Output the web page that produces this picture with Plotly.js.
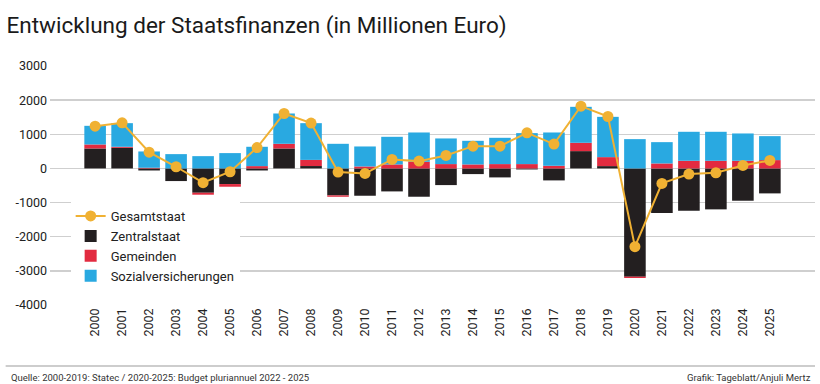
<!DOCTYPE html>
<html>
<head>
<meta charset="utf-8">
<script src="https://cdn.plot.ly/plotly-3.0.1.min.js"></script>
<style>
html,body{margin:0;padding:0;background:#fff;}
#chart{width:820px;height:384px;}
</style>
</head>
<body>
<div id="chart"></div>
<script>
const years = ["2000","2001","2002","2003","2004","2005","2006","2007","2008","2009","2010","2011","2012","2013","2014","2015","2016","2017","2018","2019","2020","2021","2022","2023","2024","2025"];
const zentralstaat = [585, 604, -60, -370, -712, -458, -60, 585, 70, -790, -800, -673, -829, -488, -166, -263, -30, -351, 507, 68, -3170, -1307, -1238, -1199, -946, -731];
const gemeinden = [117, 30, 20, 0, -58, -78, 68, 137, 180, -40, 58, 117, 195, 127, 117, 127, 127, 78, 244, 263, -40, 146, 224, 224, 224, 244];
const sozialversicherungen = [546, 692, 477, 419, 360, 449, 566, 887, 1076, 721, 585, 809, 858, 751, 692, 770, 907, 975, 1053, 1180, 858, 624, 849, 849, 800, 702];
const gesamtstaat = [1238, 1336, 476, 49, -419, -97, 610, 1609, 1330, -107, -146, 263, 214, 380, 653, 653, 1043, 712, 1823, 1521, -2291, -439, -166, -127, 88, 234];

const FONT = 'Roboto, "Liberation Sans", sans-serif';

const data = [
  {type:'scatter', mode:'lines+markers', name:'Gesamtstaat', x:years, y:gesamtstaat,
   line:{color:'#f0b133', width:2}, marker:{color:'#f0b133', size:11}},
  {type:'bar', name:'Zentralstaat', x:years, y:zentralstaat, marker:{color:'#231f20'}},
  {type:'bar', name:'Gemeinden', x:years, y:gemeinden, marker:{color:'#e22b40'}},
  {type:'bar', name:'Sozialversicherungen', x:years, y:sozialversicherungen, marker:{color:'#29a9e1'}}
];

const layout = {
  width:820, height:384,
  margin:{l:50, r:5, t:66, b:79},
  paper_bgcolor:'#fff', plot_bgcolor:'#fff',
  barmode:'relative', bargap:0.2,
  showlegend:true,
  font:{family:FONT, color:'#222', size:13},
  title:{text:'Entwicklung der Staatsfinanzen (in Millionen Euro)', x:0.008, xanchor:'left', y:0.935, yanchor:'middle',
         font:{family:FONT, size:22.5, color:'#1a1a1a'}},
  xaxis:{type:'category', tickangle:-90, showgrid:false, zeroline:false, showline:false, ticks:'',
         tickfont:{family:FONT, size:12.5, color:'#222'}},
  yaxis:{range:[-4000,3000], tickvals:[-4000,-3000,-2000,-1000,0,1000,2000,3000],
         ticktext:['-4000','-3000','-2000','-1000','0','1000','2000','3000'],
         showgrid:true, gridcolor:'#cfcfcf', gridwidth:1.5, zeroline:true, zerolinecolor:'#cfcfcf', zerolinewidth:1.5,
         showline:false, ticks:'', ticklabelstandoff:2,
         tickfont:{family:FONT, size:12.5, color:'#222'}},
  legend:{x:0.027, y:0.435, xanchor:'left', yanchor:'top', bgcolor:'#fff', borderwidth:0,
          font:{family:FONT, size:13, color:'#222'}, tracegroupgap:0, itemwidth:30,
          traceorder:'normal'},
  shapes:[{type:'line', xref:'paper', yref:'paper', x0:-0.058, x1:1.0, y0:-0.255, y1:-0.255,
           line:{color:'#bdbdbd', width:1.5}}],
  annotations:[
    {text:'Quelle: 2000-2019: Statec / 2020-2025: Budget pluriannuel 2022 - 2025', xref:'paper', yref:'paper',
     x:-0.053, y:-0.272, xanchor:'left', yanchor:'top', showarrow:false, font:{family:FONT, size:9.5, color:'#333'}},
    {text:'Grafik: Tageblatt/Anjuli Mertz', xref:'paper', yref:'paper',
     x:0.997, y:-0.272, xanchor:'right', yanchor:'top', showarrow:false, font:{family:FONT, size:9.5, color:'#333'}}
  ]
};

Plotly.newPlot('chart', data, layout, {displayModeBar:false, staticPlot:true});
</script>
</body>
</html>
